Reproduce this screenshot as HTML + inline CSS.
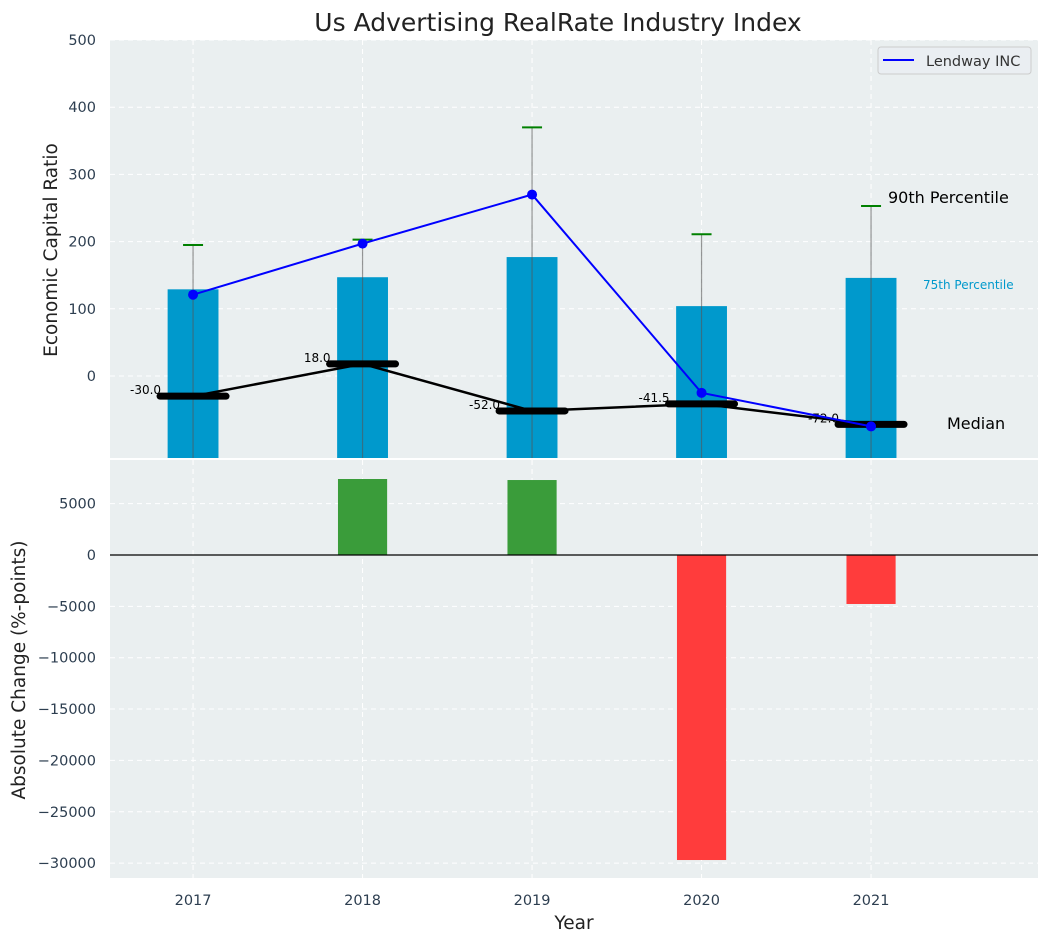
<!DOCTYPE html>
<html><head><meta charset="utf-8"><style>
body{margin:0;background:#fff;font-family:"Liberation Sans","DejaVu Sans",sans-serif}
svg text{font-family:"DejaVu Sans","Liberation Sans",sans-serif}
</style></head><body>
<svg id="c" width="1048" height="942" xmlns="http://www.w3.org/2000/svg"></svg>
<script>
const years=[2017,2018,2019,2020,2021];
const p75=[129,147,177,104,146];
const p90=[195,203,370,211,253];
const lendway=[121,197,270,-25,-75];
const median=[-30,18,-52,-41.5,-72];
const medianLabels=["-30.0","18.0","-52.0","-41.5","-72.0"];
const change=[0,7400,7300,-29700,-4770];
const topTicks=[0,100,200,300,400,500];
const botTicks=[5000,0,-5000,-10000,-15000,-20000,-25000,-30000];

const NS="http://www.w3.org/2000/svg";
const svg=document.getElementById('c');
function el(t,a,p){const e=document.createElementNS(NS,t);for(const k in a)e.setAttribute(k,a[k]);(p||svg).appendChild(e);return e;}
const L=110,R=1038;
const x=v=>L+(v-2016.51)/(2021.985-2016.51)*(R-L);
const T0=40,T1=458,yT=v=>T0+(500-v)/(500+122)*(T1-T0);
const B0=460,B1=878,yB=v=>B0+(9250-v)/(9250+31450)*(B1-B0);

let e=el('rect',{x:L,y:T0,width:R-L,height:T1-T0,fill:'#eaeff0'});

e=el('rect',{x:L,y:B0,width:R-L,height:B1-B0,fill:'#eaeff0'});


topTicks.forEach(t=>{el('line',{x1:L,x2:R,y1:yT(t),y2:yT(t),stroke:'#fff','stroke-dasharray':'5,4','stroke-width':1});
 const tx=el('text',{x:96,y:yT(t)+5,'text-anchor':'end','font-size':14.5,fill:'#2d3e50'});tx.textContent=t;
 });
botTicks.forEach(t=>{el('line',{x1:L,x2:R,y1:yB(t),y2:yB(t),stroke:'#fff','stroke-dasharray':'5,4','stroke-width':1});
 const tx=el('text',{x:96,y:yB(t)+5,'text-anchor':'end','font-size':14.5,fill:'#2d3e50'});tx.textContent=t.toString().replace('-','−');
 });
years.forEach(yr=>{
 el('line',{x1:x(yr),x2:x(yr),y1:T0,y2:T1,stroke:'#fff','stroke-dasharray':'5,4'});
 el('line',{x1:x(yr),x2:x(yr),y1:B0,y2:B1,stroke:'#fff','stroke-dasharray':'5,4'});
 const tx=el('text',{x:x(yr),y:905,'text-anchor':'middle','font-size':14.5,fill:'#2d3e50'});tx.textContent=yr;
 
});

years.forEach((yr,i)=>{
 const bw=x(2017.15)-x(2016.85);
 const b=el('rect',{x:x(yr)-bw/2,y:yT(p75[i]),width:bw,height:T1-yT(p75[i]),fill:'#0099cc'});
 
 const w=el('line',{x1:x(yr),x2:x(yr),y1:T1,y2:yT(p90[i]),stroke:'#555','stroke-opacity':0.6,'stroke-width':1.2});
 
 const cap=el('line',{x1:x(yr)-10,x2:x(yr)+10,y1:yT(p90[i]),y2:yT(p90[i]),stroke:'green','stroke-width':2});
 
});
let mp=el('polyline',{points:years.map((yr,i)=>x(yr)+','+yT(median[i])).join(' '),fill:'none',stroke:'#000','stroke-width':2.5});

years.forEach((yr,i)=>{
 const m=el('line',{x1:x(yr)-33,x2:x(yr)+33,y1:yT(median[i]),y2:yT(median[i]),stroke:'#000','stroke-width':7,'stroke-linecap':'round'});
 
 const t=el('text',{x:x(yr)-32,y:yT(median[i])-2,'text-anchor':'end','font-size':12,fill:'#000'});t.textContent=medianLabels[i];
 
});
let lp=el('polyline',{points:years.map((yr,i)=>x(yr)+','+yT(lendway[i])).join(' '),fill:'none',stroke:'#0000ff','stroke-width':2});

years.forEach((yr,i)=>{const c=el('circle',{cx:x(yr),cy:yT(lendway[i]),r:5,fill:'#0000ff'});
 });

years.forEach((yr,i)=>{
 if(!change[i])return;
 const bw=x(2017.145)-x(2016.855);
 const y0=yB(Math.max(change[i],0)),y1=yB(Math.min(change[i],0));
 const b=el('rect',{x:x(yr)-bw/2,y:y0,width:bw,height:y1-y0,fill:change[i]>0?'#3a9c3a':'#ff3c3c'});
 
});
let zl=el('line',{x1:L,x2:R,y1:yB(0),y2:yB(0),stroke:'#000','stroke-width':1.2});


function txt(s,a,n){const t=el('text',a);t.textContent=s;return t;}
txt('Us Advertising RealRate Industry Index',{x:558,y:31,'text-anchor':'middle','font-size':25,fill:'#222'},'chart-title');
txt('Economic Capital Ratio',{x:0,y:0,transform:'translate(57,250) rotate(-90)','text-anchor':'middle','font-size':18.5,fill:'#222'},'top-y-axis-title');
txt('Absolute Change (%-points)',{x:0,y:0,transform:'translate(25,670) rotate(-90)','text-anchor':'middle','font-size':18.5,fill:'#222'},'bottom-y-axis-title');
txt('Year',{x:574,y:929,'text-anchor':'middle','font-size':18.5,fill:'#222'},'x-axis-title');
txt('90th Percentile',{x:888,y:203,'font-size':16,fill:'#000'},'annotation-90th');
txt('75th Percentile',{x:923,y:289,'font-size':12,fill:'#0099cc'},'annotation-75th');
txt('Median',{x:947,y:429,'font-size':16,fill:'#000'},'annotation-median');
const lg=el('g',{});
el('rect',{x:878,y:47,width:153,height:27,rx:3,fill:'#eaeef2',stroke:'#ccc'},lg);
el('line',{x1:883,x2:914,y1:60,y2:60,stroke:'#0000ff','stroke-width':2},lg);
const lt=el('text',{x:926,y:66,'font-size':14.5,fill:'#333'},lg);lt.textContent='Lendway INC';
</script>
</body></html>
